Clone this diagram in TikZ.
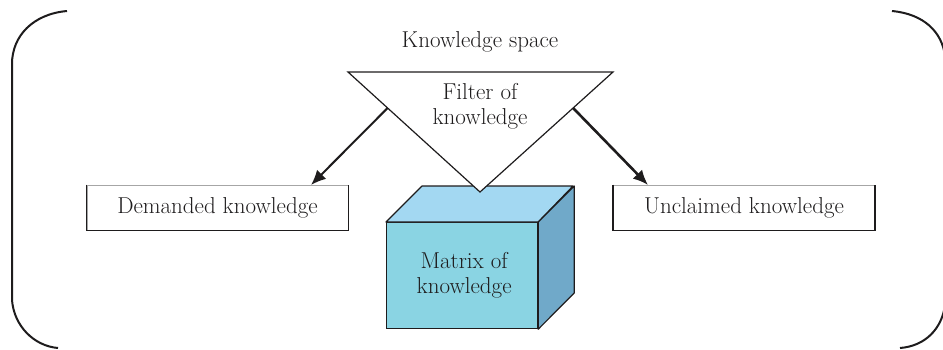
\documentclass[tikz,border=0pt]{standalone}
\usetikzlibrary{arrows.meta,calc}
\definecolor{topface}{HTML}{A3D8F2}
\definecolor{frontface}{HTML}{8AD4E3}
\definecolor{sideface}{HTML}{70A9C9}
\definecolor{ink}{HTML}{1E1C1D}
\tikzset{
  txt/.style={text=ink, font=\fontsize{23}{25}\selectfont, align=center, inner sep=0pt},
  kbox/.style={draw=gray!70, line width=0.8pt, minimum width=261pt, minimum height=45pt, inner sep=0pt, text=ink, font=\fontsize{23}{25}\selectfont},
  kedge/.style={draw=ink, line width=1.6pt},
  arr/.style={draw=ink, -{Latex[length=15pt,width=13pt]}},
  outer/.style={draw=ink, line width=2pt},
}
\begin{document}
\begin{tikzpicture}[x=1pt,y=-1pt]
\useasboundingbox (0,0) rectangle (943,349);
% outer brackets
\draw[outer] (67,11) .. controls (33,14) and (12,36) .. (12,64) -- (12,300) .. controls (14,326) and (34,346) .. (58,348);
\draw[outer] (892,11) .. controls (924,14) and (942,32) .. (945,56) -- (945,305) .. controls (942,328) and (926,346) .. (900,348);
% title
\node[txt] (title) at (480,42) {Knowledge space};
% cube
\node[draw=ink, line width=1.2pt, fill=frontface, minimum width=151pt, minimum height=106pt, inner sep=0pt, anchor=north west] (mat) at (386,222) {};
\fill[topface, draw=ink, line width=1.2pt, line join=round] (mat.north west) -- ++(36,-36) -- ++(151,0) -- (mat.north east) -- cycle;
\fill[sideface, draw=ink, line width=1.2pt, line join=round] (mat.north east) -- ++(36,-36) -- ++(0,107) -- (mat.south east) -- cycle;
\node[txt, align=center] (mattxt) at ($(mat.center)+(2,0)$) {Matrix of\\knowledge};
% filter triangle
\coordinate (tl) at (348,72);
\coordinate (tr) at (613,72);
\coordinate (tb) at (480,192);
\draw[fill=white, draw=ink, line width=1.2pt, line join=miter] (tl) -- (tr) -- (tb) -- cycle;
\node[txt] (filt) at (480,106) {Filter of\\knowledge};
% boxes
\node[kbox] (dem) at (217.5,207.5) {Demanded knowledge};
\draw[kedge] (dem.north west) -- (dem.south west) -- (dem.south east) -- (dem.north east);
\node[kbox] (unc) at (744,207.5) {Unclaimed knowledge};
\draw[kedge] (unc.north west) -- (unc.south west) -- (unc.south east) -- (unc.north east);
% arrows
\coordinate (sl) at ($(tl)!0.3!(tb)$);
\coordinate (sr) at ($(tr)!0.3!(tb)$);
\coordinate (el) at (311,185);
\coordinate (er) at (648,185);
\draw[arr, line width=2pt] (sl) -- (el);
\draw[arr, line width=2.6pt] (sr) -- (er);
\end{tikzpicture}
\end{document}
